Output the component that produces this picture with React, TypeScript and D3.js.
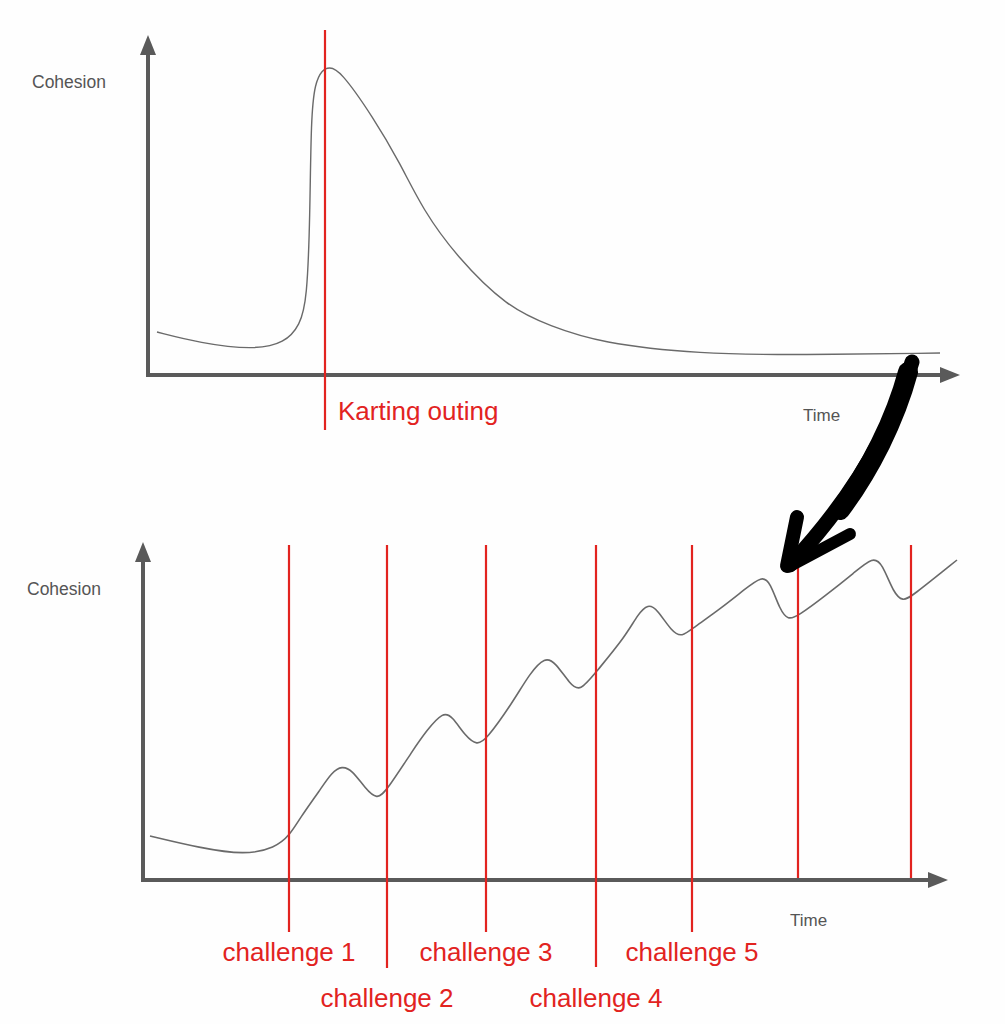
import React from "react";
import * as d3 from "d3";

// ---- Data (abstract units: time 0-100, cohesion 0-100) ----
const topTime = [1.125, 6.5, 13.125, 17.125, 19.0, 19.875, 20.25, 20.375, 20.875, 21.75, 22.625, 24.0, 28.125, 31.5, 34.375, 38.625, 44.875, 50.25, 56.5, 69.0, 81.5, 99.0];
const topCohesion = [13.03, 9.7, 7.58, 9.7, 15.15, 22.73, 47.88, 78.18, 88.48, 92.42, 93.33, 92.42, 78.18, 64.24, 50.0, 35.76, 20.61, 14.85, 9.7, 6.36, 6.06, 6.67];
const topEvents = ["Karting outing"];
const topEventTimes = [22.125];

const bottomTime = [0.875, 7.125, 12.75, 16.5, 18.375, 19.625, 22.125, 23.625, 24.875, 26.125, 27.75, 29.25, 30.5, 33.75, 35.5, 37.5, 38.625, 40.375, 41.75, 42.875, 46.25, 48.375, 50.25, 51.5, 53.375, 54.625, 56.625, 60.25, 61.875, 63.125, 64.25, 66.125, 67.375, 68.75, 72.125, 75.25, 77.375, 78.375, 79.625, 80.625, 81.875, 85.25, 89.0, 91.25, 92.375, 93.875, 95.0, 96.0, 101.75];
const bottomCohesion = [13.33, 9.7, 7.58, 9.7, 13.64, 18.79, 27.27, 32.73, 34.55, 33.33, 27.88, 24.24, 27.27, 39.39, 45.45, 50.91, 49.7, 43.33, 40.91, 42.42, 53.94, 62.73, 67.58, 66.06, 59.39, 56.97, 63.03, 73.64, 80.61, 83.64, 82.12, 75.15, 73.64, 76.36, 82.12, 88.18, 92.12, 90.3, 81.82, 78.79, 80.0, 86.06, 93.33, 97.88, 96.06, 86.67, 84.55, 85.76, 96.97];
const challengeLabels = ["challenge 1", "challenge 2", "challenge 3", "challenge 4", "challenge 5", "", ""];
const challengeTimes = [18.25, 30.5, 42.875, 56.625, 68.625, 81.875, 96.0];

const yLabel = "Cohesion";
const xLabel = "Time";

const AXIS = "#5a5a5a";
const CURVE = "#6a6a6a";
const RED = "#e2231f";
const FONT = "'Liberation Sans', Arial, Helvetica, sans-serif";

function Axes({ x0, y0, yTop, xRight }: { x0: number; y0: number; yTop: number; xRight: number }) {
  return (
    <g>
      <line x1={x0} y1={y0 + 2} x2={x0} y2={yTop + 18} stroke={AXIS} strokeWidth={4} />
      <polygon points={`${x0 - 8},${yTop + 20} ${x0 + 8},${yTop + 20} ${x0},${yTop}`} fill={AXIS} />
      <line x1={x0 - 2} y1={y0} x2={xRight - 18} y2={y0} stroke={AXIS} strokeWidth={4} />
      <polygon points={`${xRight - 20},${y0 - 8} ${xRight - 20},${y0 + 8} ${xRight},${y0}`} fill={AXIS} />
    </g>
  );
}

export default function App() {
  // Top chart scales
  const xTop = d3.scaleLinear().domain([0, 100]).range([148, 948]);
  const yTop = d3.scaleLinear().domain([0, 100]).range([375, 45]);
  const topData = topTime.map((t, i) => ({ t, c: topCohesion[i] }));
  const lineTop = d3
    .line<{ t: number; c: number }>()
    .x((d) => xTop(d.t))
    .y((d) => yTop(d.c))
    .curve(d3.curveBasis);

  // Bottom chart scales
  const xBot = d3.scaleLinear().domain([0, 100]).range([143, 943]);
  const yBot = d3.scaleLinear().domain([0, 100]).range([880, 550]);
  const botData = bottomTime.map((t, i) => ({ t, c: bottomCohesion[i] }));
  const lineBot = d3
    .line<{ t: number; c: number }>()
    .x((d) => xBot(d.t))
    .y((d) => yBot(d.c))
    .curve(d3.curveBasis);

  const lineBottoms = [932, 968, 932, 967, 932, 878, 878];
  const labelRows = [961, 1007, 961, 1007, 961, 961, 961];

  return (
    <div style={{ position: "absolute", left: 0, top: 0 }}>
      <svg width={1005} height={1024} style={{ display: "block", background: "#fefefe" }}>
        {/* ---------- Top chart ---------- */}
        <Axes x0={148} y0={375} yTop={35} xRight={960} />
        <text x={32} y={88} fontFamily={FONT} fontSize={17.5} fill="#555">{yLabel}</text>
        <text x={803} y={421} fontFamily={FONT} fontSize={17} fill="#555">{xLabel}</text>
        <path d={lineTop(topData) || ""} fill="none" stroke={CURVE} strokeWidth={1.4} />
        {topEventTimes.map((t, i) => (
          <g key={i}>
            <line x1={xTop(t)} x2={xTop(t)} y1={30} y2={430} stroke={RED} strokeWidth={2.2} />
            <text x={xTop(t) + 13} y={420} fontFamily={FONT} fontSize={26} fill={RED}>{topEvents[i]}</text>
          </g>
        ))}

        {/* ---------- Bottom chart ---------- */}
        <Axes x0={143} y0={880} yTop={542} xRight={948} />
        <text x={27} y={595} fontFamily={FONT} fontSize={17.5} fill="#555">{yLabel}</text>
        <text x={790} y={926} fontFamily={FONT} fontSize={17} fill="#555">{xLabel}</text>
        <path d={lineBot(botData) || ""} fill="none" stroke={CURVE} strokeWidth={1.6} />
        {challengeTimes.map((t, i) => (
          <g key={i}>
            <line x1={xBot(t)} x2={xBot(t)} y1={545} y2={lineBottoms[i]} stroke={RED} strokeWidth={2.2} />
            {challengeLabels[i] && (
              <text x={xBot(t)} y={labelRows[i]} textAnchor="middle" fontFamily={FONT} fontSize={26} fill={RED}>
                {challengeLabels[i]}
              </text>
            )}
          </g>
        ))}

        {/* ---------- Hand-drawn black arrow annotation ---------- */}
        <g stroke="#000" fill="none" strokeLinecap="round" strokeLinejoin="round">
          <path d="M912,362 C895,420 860,490 790,565" strokeWidth={15} />
          <path d="M908,372 C895,420 870,470 840,510" strokeWidth={20} />
          <path d="M797,517 L787,566" strokeWidth={14} />
          <path d="M850,534 L790,566" strokeWidth={12} />
        </g>
      </svg>
    </div>
  );
}
